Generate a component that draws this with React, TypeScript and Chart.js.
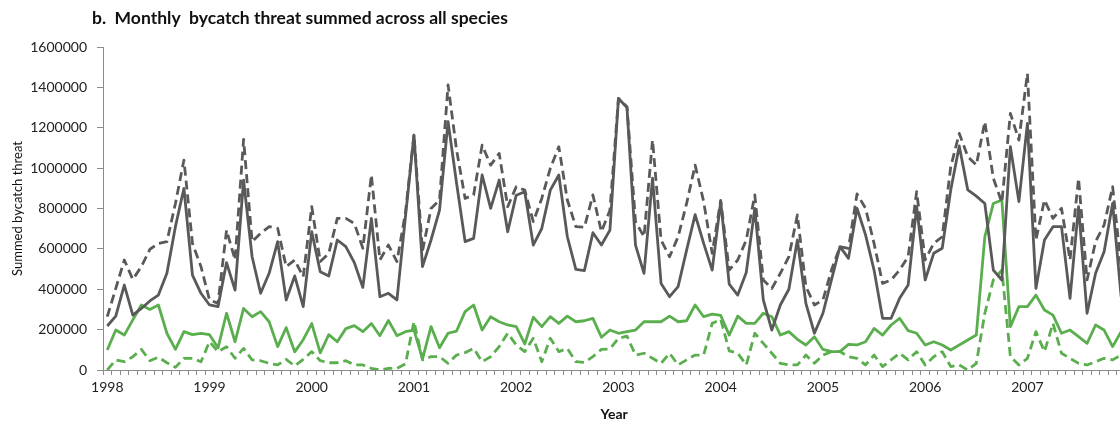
import React, { useEffect, useRef } from "react";
import { Chart, registerables } from "chart.js";

Chart.register(...registerables);

const years = ["1998", "1999", "2000", "2001", "2002", "2003", "2004", "2005", "2006", "2007"];
const yTicks = [0, 200000, 400000, 600000, 800000, 1000000, 1200000, 1400000, 1600000];

// values in thousands, monthly from Jan 1998
const darkSolid = [
  218, 267, 421, 272, 305, 342, 371, 479, 710, 900, 470, 380,
  322, 314, 532, 396, 941, 561, 380, 479, 636, 347, 466, 314,
  685, 487, 466, 644, 611, 532, 409, 751, 363, 380, 347, 760,
  1164, 512, 644, 792, 1230, 925, 636, 652, 966, 801, 941, 685,
  866, 883, 619, 701, 891, 966, 660, 498, 492, 680, 619, 693,
  1345, 1300, 619, 479, 950, 429, 363, 413, 594, 770, 627, 495,
  834, 425, 371, 483, 800, 347, 198, 322, 400, 644, 330, 182,
  281, 446, 611, 553, 801, 669, 495, 256, 256, 355, 421, 809,
  446, 578, 603, 892, 1110, 892, 861, 825, 495, 446, 1106, 834,
  1222, 404, 644, 710, 710, 355, 809, 281, 479, 586, 825, 363,
];
const darkDashed = [
  264, 404, 545, 449, 512, 598, 627, 636, 825, 1040, 627, 512,
  347, 330, 693, 545, 1142, 636, 677, 710, 702, 512, 545, 462,
  809, 537, 578, 751, 751, 726, 603, 966, 545, 619, 537, 780,
  1164, 590, 800, 842, 1412, 1090, 850, 867, 1114, 1015, 1073, 809,
  908, 891, 735, 850, 999, 1106, 842, 710, 707, 867, 685, 792,
  1345, 1304, 735, 660, 1139, 644, 561, 660, 825, 1015, 834, 578,
  840, 495, 545, 644, 867, 446, 404, 479, 561, 768, 413, 322,
  347, 495, 611, 603, 872, 801, 627, 429, 446, 495, 561, 883,
  545, 627, 660, 1007, 1172, 1057, 1015, 1230, 950, 830, 1271, 1139,
  1469, 644, 842, 751, 801, 545, 949, 446, 636, 718, 908, 512,
];
const greenSolid = [
  99, 198, 173, 248, 322, 300, 322, 182, 102, 190, 175, 182,
  175, 110, 281, 140, 305, 264, 289, 239, 116, 210, 90, 150,
  230, 85, 175, 140, 205, 220, 190, 230, 170, 245, 170, 190,
  198, 55, 215, 110, 182, 193, 289, 322, 198, 264, 239, 223,
  215, 129, 261, 215, 264, 231, 267, 239, 244, 256, 162, 198,
  182, 190, 198, 239, 239, 239, 267, 239, 244, 322, 264, 277,
  270, 173, 267, 231, 231, 281, 264, 173, 190, 152, 124, 165,
  102, 91, 91, 127, 124, 140, 206, 173, 223, 256, 195, 182,
  124, 140, 124, 99, 124, 149, 173, 660, 825, 842, 215, 314,
  314, 371, 297, 272, 182, 198, 165, 132, 223, 198, 116, 190,
];
const greenDashed = [
  0, 50, 41, 66, 102, 46, 63, 36, 13, 58, 58, 41,
  140, 91, 115, 58, 107, 50, 46, 33, 25, 53, 20, 53,
  91, 46, 36, 36, 46, 25, 25, 8, 0, 8, 8, 30,
  240, 50, 66, 66, 33, 74, 86, 107, 41, 66, 116, 182,
  124, 91, 157, 41, 157, 91, 107, 41, 38, 66, 102, 104,
  157, 168, 74, 83, 58, 33, 83, 25, 50, 74, 74, 231,
  251, 95, 83, 25, 182, 132, 83, 33, 25, 25, 74, 33,
  74, 91, 91, 66, 58, 25, 74, 17, 50, 83, 50, 91,
  25, 66, 91, 17, 25, 0, 33, 281, 446, 495, 66, 25,
  58, 190, 91, 231, 83, 58, 33, 25, 41, 58, 50, 74,
];

const labels: string[] = [];
years.forEach((y) => {
  for (let m = 1; m <= 12; m++) labels.push(`${y}-${m}`);
});
const k = (arr: number[]) => arr.map((v) => v * 1000);

const GREY = "#595959";
const GREEN = "#5aae4e";
const AXIS = "#8c8c8c";
const FONT = "Lato, 'Liberation Sans', sans-serif";

const titlePlugin = {
  id: "mainTitle",
  afterDraw(chart: any) {
    const ctx = chart.ctx;
    ctx.save();
    ctx.font = `bold 17.5px ${FONT}`;
    ctx.fillStyle = "#111";
    ctx.textBaseline = "middle";
    ctx.textAlign = "left";
    ctx.fillText("b.  Monthly  bycatch threat summed across all species", 92, 18);
    ctx.restore();
  },
};

export default function App() {
  const ref = useRef<HTMLCanvasElement>(null);
  useEffect(() => {
    if (!ref.current) return;
    const chart = new Chart(ref.current, {
      type: "line",
      data: {
        labels,
        datasets: [
          { label: "Grey dashed", data: k(darkDashed), borderColor: GREY, borderDash: [9, 5], borderWidth: 2.8 },
          { label: "Grey solid", data: k(darkSolid), borderColor: GREY, borderWidth: 2.8 },
          { label: "Green dashed", data: k(greenDashed), borderColor: GREEN, borderDash: [9, 5], borderWidth: 2.8 },
          { label: "Green solid", data: k(greenSolid), borderColor: GREEN, borderWidth: 2.8 },
        ].map((d) => ({ ...d, pointRadius: 0, tension: 0, fill: false, borderJoinStyle: "round" as const })),
      },
      options: {
        animation: false,
        responsive: false,
        maintainAspectRatio: false,
        layout: { padding: { top: 47, right: 14.6, bottom: 0, left: 0 } },
        plugins: { legend: { display: false }, tooltip: { enabled: false }, title: { display: false } },
        scales: {
          x: {
            type: "category",
            offset: true,
            grid: { offset: true, drawOnChartArea: false, drawTicks: true, tickLength: 5, color: AXIS },
            border: { color: AXIS, width: 1 },
            ticks: {
              autoSkip: false,
              maxRotation: 0,
              minRotation: 0,
              padding: 4,
              color: "#222",
              font: { family: FONT, size: 14 },
              callback: (_v: any, i: number) => (i % 12 === 0 ? years[i / 12] : ""),
            },
            title: { display: true, text: "Year", color: "#111", font: { family: FONT, size: 14, weight: "bold" }, padding: { top: 0, bottom: 2 } },
            afterFit: (s: any) => { s.height = 55; },
          },
          y: {
            min: 0,
            max: 1600000,
            afterBuildTicks: (s: any) => { s.ticks = yTicks.map((v) => ({ value: v })); },
            grid: { drawOnChartArea: false, drawTicks: true, tickLength: 6, color: AXIS },
            border: { color: AXIS, width: 1 },
            ticks: {
              padding: 10,
              color: "#222",
              font: { family: FONT, size: 14 },
              callback: (v: any) => String(v),
            },
            title: { display: true, text: "Summed bycatch threat", color: "#111", font: { family: FONT, size: 13 }, padding: { top: 10, bottom: 0 } },
            afterFit: (s: any) => { s.width = 103; },
          },
        },
      },
      plugins: [titlePlugin],
    });
    return () => chart.destroy();
  }, []);
  return (
    <div style={{ position: "fixed", left: 0, top: 0, width: 1120, height: 425, overflow: "hidden", background: "#fff" }}>
      <canvas ref={ref} width={1140} height={425} style={{ display: "block", width: 1140, height: 425 }} />
    </div>
  );
}
